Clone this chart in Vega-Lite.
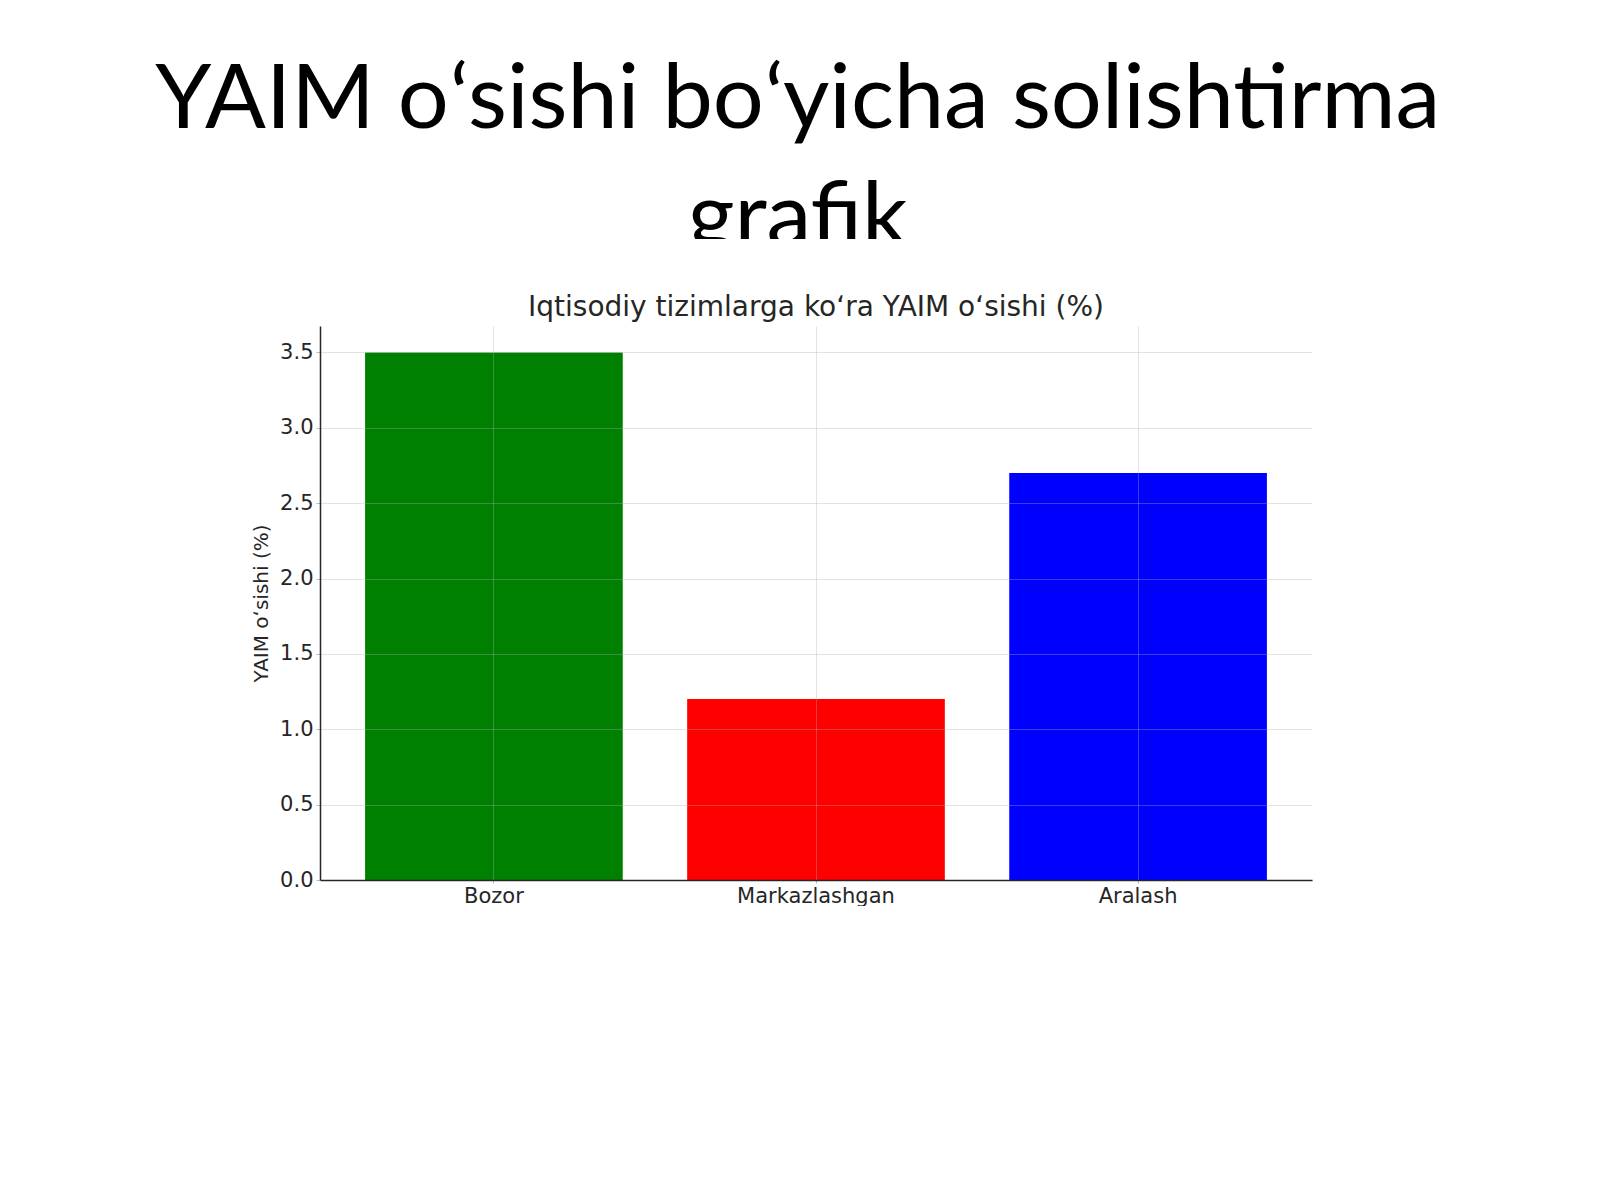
{
  "$schema": "https://vega.github.io/schema/vega-lite/v6.json",
  "background": "white",
  "padding": {"left": 100, "top": 0, "right": 0, "bottom": 0},
  "center": true,
  "spacing": 55,
  "config": {
    "view": {"stroke": null},
    "font": "DejaVu Sans"
  },
  "vconcat": [
    {
      "width": 1432,
      "height": 239,
      "data": {
        "values": [
          {"qator": 1, "matn": "YAIM oʻsishi boʻyicha solishtirma"},
          {"qator": 2, "matn": "grafik"}
        ]
      },
      "mark": {
        "type": "text",
        "clip": true,
        "font": "Lato",
        "fontSize": 90,
        "color": "black",
        "align": "center",
        "baseline": "alphabetic"
      },
      "encoding": {
        "x": {
          "datum": -0.0255,
          "type": "quantitative",
          "scale": {"domain": [-1, 1], "nice": false, "zero": false},
          "axis": null
        },
        "y": {
          "field": "qator",
          "type": "quantitative",
          "scale": {"domain": [-0.0847, 1.9407], "reverse": true, "nice": false, "zero": false},
          "axis": null
        },
        "text": {"field": "matn"}
      }
    },
    {
      "width": 992,
      "height": 554,
      "title": {
        "text": "Iqtisodiy tizimlarga koʻra YAIM oʻsishi (%)",
        "font": "DejaVu Sans",
        "fontSize": 28,
        "fontWeight": "normal",
        "color": "#262626",
        "anchor": "middle",
        "offset": 4
      },
      "data": {
        "values": [
          {"tizim": "Bozor", "osish": 3.5},
          {"tizim": "Markazlashgan", "osish": 1.2},
          {"tizim": "Aralash", "osish": 2.7}
        ]
      },
      "mark": {"type": "bar"},
      "encoding": {
        "x": {
          "field": "tizim",
          "type": "nominal",
          "sort": null,
          "title": null,
          "scale": {"paddingInner": 0.2, "paddingOuter": 0.14},
          "axis": {
            "labelAngle": 0,
            "labelFont": "DejaVu Sans",
            "labelFontSize": 21,
            "labelColor": "#262626",
            "labelPadding": 2,
            "tickSize": 3,
            "tickColor": "#bbbbbb",
            "domainColor": "#262626",
            "domainWidth": 1.5,
            "bandPosition": 0.5,
            "grid": true,
            "gridColor": "#b0b0b0",
            "gridOpacity": 0.35,
            "zindex": 1
          }
        },
        "y": {
          "field": "osish",
          "type": "quantitative",
          "title": "YAIM oʻsishi (%)",
          "scale": {"domain": [0, 3.675], "nice": false},
          "axis": {
            "values": [0, 0.5, 1, 1.5, 2, 2.5, 3, 3.5],
            "format": ".1f",
            "labelFont": "DejaVu Sans",
            "labelFontSize": 21,
            "labelColor": "#262626",
            "labelPadding": 3,
            "tickSize": 4,
            "tickColor": "#bbbbbb",
            "domainColor": "#262626",
            "domainWidth": 1.5,
            "titleFont": "DejaVu Sans",
            "titleFontSize": 20,
            "titleFontWeight": "normal",
            "titleColor": "#262626",
            "titlePadding": 8,
            "grid": true,
            "gridColor": "#b0b0b0",
            "gridOpacity": 0.35,
            "zindex": 1
          }
        },
        "color": {
          "field": "tizim",
          "type": "nominal",
          "scale": {
            "domain": ["Bozor", "Markazlashgan", "Aralash"],
            "range": ["#008000", "#ff0000", "#0000ff"]
          },
          "legend": null
        }
      }
    }
  ]
}
